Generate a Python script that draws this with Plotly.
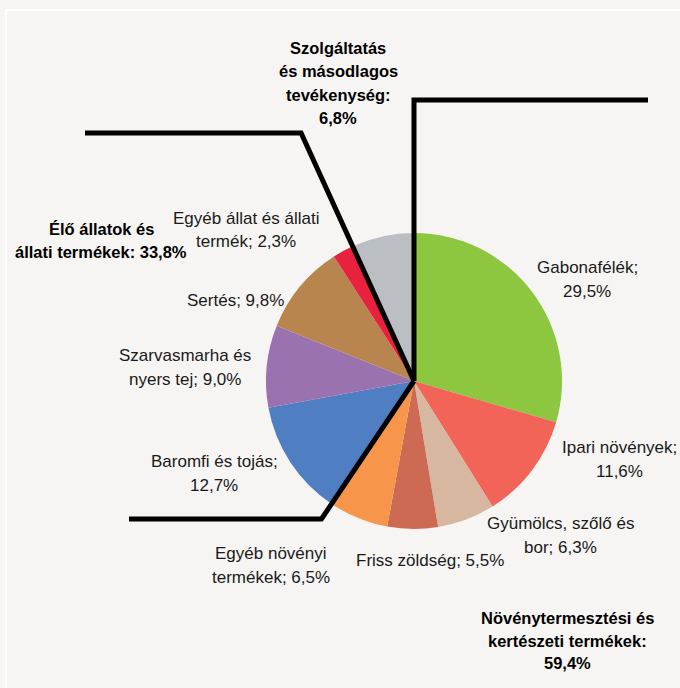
import math
import plotly.graph_objects as go

# ---- data ----
categories = [
    "Gabonafélék", "Ipari növények", "Gyümölcs, szőlő és<br>bor", "Friss zöldség",
    "Egyéb növényi<br>termékek", "Baromfi és tojás", "Szarvasmarha és<br>nyers tej",
    "Sertés", "Egyéb állat és állati<br>termék", "Szolgáltatás és másodlagos tevékenység",
]
values = [29.5, 11.6, 6.3, 5.5, 6.5, 12.7, 9.0, 9.8, 2.3, 6.8]
colors = ["#8DC63F", "#F26457", "#D8B7A0", "#CC6A54", "#F7964A",
          "#4F7FC2", "#9A72B0", "#B8854F", "#E8213F", "#BBBEC2"]
label_sep = [";<br>", ";<br>", "; ", "; ", "; ", ";<br>", "; ", "; ", "; ", None]
groups = {"crop": [0, 1, 2, 3, 4], "animal": [5, 6, 7, 8], "service": [9]}

W, H = 680, 688
BG = "#F6F5F3"
CX, CY, R = 414, 381, 148  # window pixels


def fmt(v):
    return f"{v:.1f}".replace(".", ",") + "%"


def px(x, y):
    return x / W, 1 - y / H


fig = go.Figure()
dx0, dy_low = px(CX - R, CY + R)
dx1, dy_high = px(CX + R, CY - R)
fig.add_trace(go.Pie(
    labels=categories, values=values, sort=False, direction="clockwise",
    rotation=0, marker=dict(colors=colors, line=dict(width=0)),
    textinfo="none", hoverinfo="label+value", showlegend=False,
    domain=dict(x=[dx0, dx1], y=[dy_low, dy_high]),
))

font = "Liberation Sans, Arial, sans-serif"
anns = []


def add_text(text, cx, y_first, step, size, color, bold=False):
    for i, line in enumerate(text.split("<br>")):
        ax, ay = px(cx, y_first + i * step)
        t = f"<b>{line}</b>" if bold else line
        anns.append(dict(x=ax, y=ay, xref="paper", yref="paper", text=t,
                         showarrow=False, xanchor="center", yanchor="middle",
                         font=dict(family=font, size=size, color=color)))


label_pos = [(587, 267), (619, 447), (560, 523), (430, 560), (271, 553),
             (214, 461), (185, 355), (235, 300), (246, 218), None]
for name, v, sep, pos in zip(categories, values, label_sep, label_pos):
    if pos is None:
        continue
    add_text(name + sep + fmt(v), pos[0], pos[1], 24, 17, "#1a1a1a")

total = sum(values)
crop = sum(values[i] for i in groups["crop"])
animal = sum(values[i] for i in groups["animal"])
service = sum(values[i] for i in groups["service"])
add_text("Szolgáltatás<br>és másodlagos<br>tevékenység:<br>" + fmt(service),
         338, 48, 23.3, 16.5, "#000000", bold=True)
add_text("Élő állatok és<br>állati termékek: " + fmt(animal),
         101, 229, 23.3, 16.5, "#000000", bold=True)
add_text("Növénytermesztési és<br>kertészeti termékek:<br>" + fmt(crop),
         567, 618, 22.5, 16.5, "#000000", bold=True)

# frame line (top-left white edge)
shapes = [dict(type="rect", xref="paper", yref="paper", x0=6 / W, x1=1.1,
               y0=-0.1, y1=1 - 10 / H, line=dict(color="white", width=2),
               layer="below")]
# leader lines along group boundaries
bounds = [(0.0, 100, 648), (sum(values[:9]) / total, 133, 85),
          (crop / total, 519, 129)]
for frac, yend, xend in bounds:
    th = 2 * math.pi * frac
    ux, uy = math.sin(th), -math.cos(th)
    t = (yend - CY) / uy
    bx, by = CX + ux * t, CY + uy * t
    pts = [px(CX, CY), px(bx, by), px(xend, yend)]
    path = "M " + " L ".join(f"{a:.5f},{b:.5f}" for a, b in pts)
    shapes.append(dict(type="path", xref="paper", yref="paper", path=path,
                       line=dict(color="black", width=5), layer="above"))

fig.update_layout(
    width=W, height=H, margin=dict(l=0, r=0, t=0, b=0, autoexpand=False),
    paper_bgcolor=BG, plot_bgcolor=BG,
    annotations=anns, shapes=shapes,
)
fig.write_html(
    "out.html",
    config={"displayModeBar": False},
    post_script=f"document.body.style.margin='0';document.body.style.background='{BG}';",
)
